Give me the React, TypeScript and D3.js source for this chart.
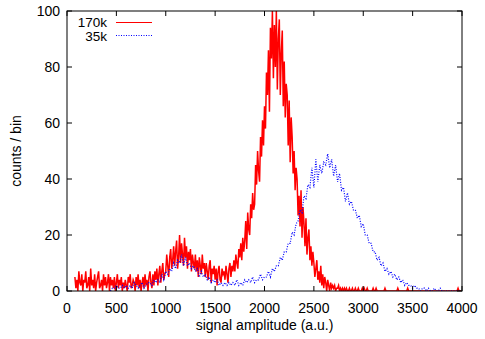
import React from 'react'
import * as d3 from 'd3'

// histogram 170k, bins of 10 starting at 80
const redStart = 80
const redBin = 10
const redCounts = [
  5,1,4,0,7,3,2,6,0,4, 3,7,1,2,5,0,8,2,4,1, 6,0,3,5,7,1,2,4,0,6, 2,5,1,3,6,0,5,2,4,1,
  5,0,3,6,1,4,2,5,0,3, 1,4,2,0,5,3,6,1,2,4, 3,0,5,2,6,1,4,0,3,5, 1,6,2,4,0,5,7,3,1,6,
  2,7,
  4,8,2,6,9,3,7,10,4,6, 7,13,9,5,12,15,8,11,16,9, 14,18,8,12,20,10,17,13,9,19,
  12,16,8,14,11,15,7,13,10,8, 13,7,11,5,12,9,6,13,8,10, 5,10,7,4,9,11,3,8,6,9,
  4,8,2,7,9,4,3,8,6,7, 4,9,6,3,8,10,5,9,7,11, 7,13,10,8,15,12,17,11,19,14,
  18,25,15,28,22,20,31,26,35,29, 31,45,38,50,43,39,55,48,61,52,
  66,58,78,70,86,64,94,83,100,76, 95,80,100,72,90,97,70,85,93,66,
  82,62,74,70,52,68,46,62,55,42, 50,36,44,40,27,34,23,36,19,30,
  24,16,26,13,19,22,11,16,9,14, 10,5,8,11,4,7,3,9,2,6, 1,5,3,0,4,2,0,3,1,2,
  1,2,0,1,1,2,0,1,0,1, 0,1,0,1,0,0,1,0,0,1, 0,0,1,0,0,1,0,0,0,1,
  0,1,0,0,1,0,0,0,0,0, 1,0,0,1,0,0,0,0,0,0, 0,0,1,0,0,0,0,0,0,0,
  0,0,0,0,0,1,0,0,0,0, 0,0,0,0,0,1,0,0,0,0, 0,0,0,0,0,0,0,0,0,0,
  0,0,0,0,0,0,0,0,0,0, 0,0,0,0,0,0,0,0,0,0, 0,0,0,0,0,0,0,0,0,0,
  0,0,0,0,0,0,1,0,0,0
]

// histogram 35k, bins of 20 starting at 440
const blueStart = 440
const blueBin = 20
const blueCounts = [
  0,1,1,2,1,1,2,1,2,1, 2,1,3,2,1,2,3,1,2,3, 3,2,4,3,4,3,6,4,7,6,
  8,7,10,8,11,10,13,9,12,9, 10,8,9,7,8,5,7,5,6,4, 5,3,4,3,4,2,3,2,3,2,
  3,2,3,2,4,2,3,2,4,3, 4,3,5,3,4,4,6,4,5,5, 7,5,8,7,9,9,12,11,14,14,
  17,17,21,20,24,25,29,28,34,33, 38,37,44,37,47,39,45,42,46,45,
  49,44,47,41,45,39,42,36,37,32, 35,31,32,29,29,26,27,23,24,20,
  20,17,17,14,14,11,12,9,10,7, 8,6,7,5,6,4,5,3,4,2, 3,2,2,1,2,1,1,0,1,1,
  0,1,0,0,1,0,0,1,0,0, 0,0,0,0,0,0,0,0
]

const xTicks = [0, 500, 1000, 1500, 2000, 2500, 3000, 3500, 4000]
const yTicks = [0, 20, 40, 60, 80, 100]
const legendLabels = ['170k', '35k']

const W = 485, H = 339
const L = 67, R = 462, T = 11, B = 291
const font = '"Liberation Sans", Arial, sans-serif'
const fs = 14

export default function App() {
  const x = d3.scaleLinear().domain([0, 4000]).range([L, R])
  const y = d3.scaleLinear().domain([0, 100]).range([B, T])

  const line = d3.line<number>()
  const redPts: [number, number][] = redCounts.map((c, i) => [x(redStart + i * redBin), y(c)])
  const bluePts: [number, number][] = blueCounts.map((c, i) => [x(blueStart + i * blueBin), y(c)])

  return (
    <svg width={W} height={H} style={{ position: 'absolute', left: 0, top: 0, background: '#fff' }} fontFamily={font}>
      <defs>
        <clipPath id="plot">
          <rect x={L} y={T} width={R - L} height={B - T} />
        </clipPath>
      </defs>
      <g clipPath="url(#plot)">
        <path d={line(redPts) || ''} fill="none" stroke="#ff0000" strokeWidth={1.5} />
        <path d={line(bluePts) || ''} fill="none" stroke="#0000ff" strokeWidth={1.2} strokeDasharray="1 1.5" />
      </g>

      {/* ticks, mirrored */}
      {xTicks.map(t => (
        <g key={'x' + t}>
          <line x1={x(t)} x2={x(t)} y1={B} y2={B - 5} stroke="#000" />
          <line x1={x(t)} x2={x(t)} y1={T} y2={T + 5} stroke="#000" />
          <text x={x(t)} y={B + 22} textAnchor="middle" fontSize={fs}>{t}</text>
        </g>
      ))}
      {yTicks.map(t => (
        <g key={'y' + t}>
          <line x1={L} x2={L + 5} y1={y(t)} y2={y(t)} stroke="#000" />
          <line x1={R} x2={R - 5} y1={y(t)} y2={y(t)} stroke="#000" />
          <text x={L - 7} y={y(t) + 5} textAnchor="end" fontSize={fs}>{t}</text>
        </g>
      ))}
      <rect x={L} y={T} width={R - L} height={B - T} fill="none" stroke="#000" strokeWidth={1} />

      {/* legend */}
      <text x={107} y={27} textAnchor="end" fontSize={13.5}>{legendLabels[0]}</text>
      <line x1={116} x2={152} y1={22.5} y2={22.5} stroke="#ff0000" />
      <text x={107} y={41} textAnchor="end" fontSize={13.5}>{legendLabels[1]}</text>
      <line x1={116} x2={152} y1={35.5} y2={35.5} stroke="#0000ff" strokeWidth={1.2} strokeDasharray="1 1.5" />

      <text x={(L + R) / 2} y={330} textAnchor="middle" fontSize={fs}>signal amplitude (a.u.)</text>
      <text transform={`translate(21,${(T + B) / 2}) rotate(-90)`} textAnchor="middle" fontSize={fs}>counts / bin</text>
    </svg>
  )
}
